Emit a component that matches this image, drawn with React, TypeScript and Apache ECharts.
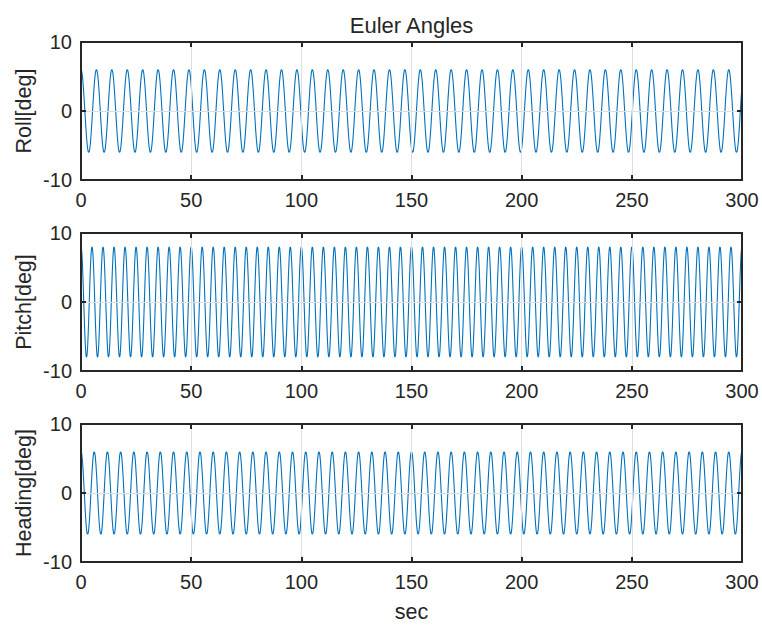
import React, { useEffect, useRef } from "react";
import * as echarts from "echarts";

// Values
const titleText = "Euler Angles";
const xName = "sec";
const channelNames = ["Roll[deg]", "Pitch[deg]", "Heading[deg]"];
const amplitudes = [6, 8, 6]; // peak value of each sinusoid (deg)
const periods = [7, 5, 6]; // seconds per cycle
const xTicks = [0, 50, 100, 150, 200, 250, 300];
const yTicks = [-10, 0, 10];
const timeStep = 0.05; // sampling step (s)

const FONT = "'Liberation Sans', Arial, Helvetica, sans-serif";
const INK = "#262626";
const LINE = "#0072BD";
const GRIDC = "#dedede";

const gridTops = [42, 233, 424];
const gridLeft = 81;
const gridWidth = 661;
const gridHeight = 138;

function buildSeriesData(k: number): number[][] {
  const out: number[][] = [];
  const tMax = xTicks[xTicks.length - 1];
  const n = Math.round(tMax / timeStep);
  for (let i = 0; i <= n; i++) {
    const t = i * timeStep;
    out.push([t, amplitudes[k] * Math.cos((2 * Math.PI * t) / periods[k])]);
  }
  return out;
}

export default function App() {
  const ref = useRef<HTMLDivElement>(null);
  useEffect(() => {
    if (!ref.current) return;
    const chart = echarts.init(ref.current, undefined, { renderer: "svg" });
    const xMin = xTicks[0];
    const xMax = xTicks[xTicks.length - 1];
    const xInt = xTicks[1] - xTicks[0];
    const yMin = yTicks[0];
    const yMax = yTicks[yTicks.length - 1];
    const yInt = yTicks[1] - yTicks[0];

    const grids: any[] = [];
    const xAxes: any[] = [];
    const yAxes: any[] = [];
    const series: any[] = [];
    const graphics: any[] = [];

    const axisLine = { show: true, onZero: false, lineStyle: { color: INK, width: 2 } };
    const axisTick = { show: true, inside: true, length: 5, lineStyle: { color: INK, width: 2 } };

    channelNames.forEach((name, k) => {
      grids.push({
        left: gridLeft,
        top: gridTops[k],
        width: gridWidth,
        height: gridHeight,
        show: false,
        containLabel: false,
      });
      // bottom x axis
      xAxes.push({
        type: "value",
        gridIndex: k,
        position: "bottom",
        min: xMin,
        max: xMax,
        interval: xInt,
        axisLine,
        axisTick,
        axisLabel: { show: true, margin: 10, color: INK, fontSize: 20, fontFamily: FONT },
        splitLine: { show: true, lineStyle: { color: GRIDC, width: 1 } },
        z: 4,
      });
      // top x axis (ticks only)
      xAxes.push({
        type: "value",
        gridIndex: k,
        position: "top",
        min: xMin,
        max: xMax,
        interval: xInt,
        axisLine,
        axisTick,
        axisLabel: { show: false },
        splitLine: { show: false },
        z: 4,
      });
      yAxes.push({
        type: "value",
        gridIndex: k,
        position: "left",
        min: yMin,
        max: yMax,
        interval: yInt,
        axisLine,
        axisTick,
        axisLabel: { show: true, margin: 9, color: INK, fontSize: 20, fontFamily: FONT },
        splitLine: { show: true, lineStyle: { color: GRIDC, width: 1 } },
        z: 4,
      });
      yAxes.push({
        type: "value",
        gridIndex: k,
        position: "right",
        min: yMin,
        max: yMax,
        interval: yInt,
        axisLine,
        axisTick,
        axisLabel: { show: false },
        splitLine: { show: false },
        z: 4,
      });
      series.push({
        type: "line",
        name,
        xAxisIndex: k * 2,
        yAxisIndex: k * 2,
        data: buildSeriesData(k),
        showSymbol: false,
        symbol: "none",
        clip: true,
        lineStyle: { color: LINE, width: 1.1 },
        z: 3,
      });
      graphics.push({
        type: "text",
        x: 24,
        y: gridTops[k] + gridHeight / 2,
        rotation: Math.PI / 2,
        style: {
          text: name,
          fill: INK,
          font: `21.5px ${FONT}`,
          textAlign: "center",
          textVerticalAlign: "middle",
        },
      });
    });

    graphics.push({
      type: "text",
      x: gridLeft + gridWidth / 2,
      y: 25,
      style: {
        text: titleText,
        fill: INK,
        font: `22px ${FONT}`,
        textAlign: "center",
        textVerticalAlign: "middle",
      },
    });
    graphics.push({
      type: "text",
      x: gridLeft + gridWidth / 2,
      y: 612,
      style: {
        text: xName,
        fill: INK,
        font: `21.5px ${FONT}`,
        textAlign: "center",
        textVerticalAlign: "middle",
      },
    });

    chart.setOption({
      animation: false,
      backgroundColor: "#ffffff",
      grid: grids,
      xAxis: xAxes,
      yAxis: yAxes,
      series,
      graphic: graphics,
    });
    return () => chart.dispose();
  }, []);
  return (
    <div
      ref={ref}
      style={{ position: "absolute", left: 0, top: 0, width: 762, height: 626 }}
    />
  );
}
